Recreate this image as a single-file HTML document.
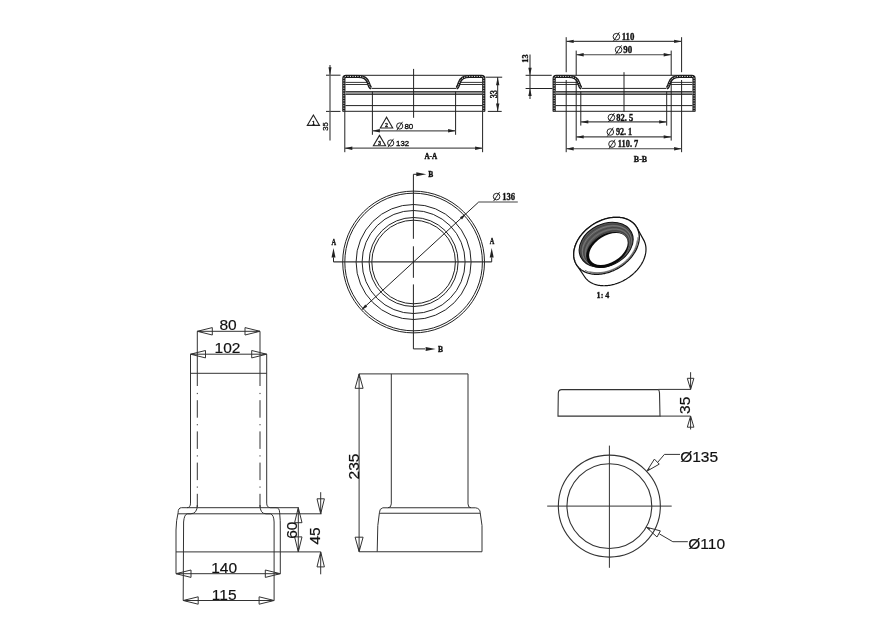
<!DOCTYPE html><html><head><meta charset="utf-8"><style>html,body{margin:0;padding:0;background:#fff;}svg{will-change:transform;}</style></head><body><svg width="891" height="628" viewBox="0 0 891 628" style="display:block">
<rect width="891" height="628" fill="#fff"/>
<path d="M 343.85 111.3 L 343.85 78.6 Q 343.85 76.45 346.00 76.45 L 358.30 76.45 C 364.30 76.45 367.20 79.2 368.40 83 C 369.20 85.8 369.90 87.6 371.20 88.1" fill="none" stroke="#1a1a1a" stroke-width="3.2" stroke-linejoin="round"/>
<path d="M 343.85 111.3 L 343.85 78.6 Q 343.85 76.45 346.00 76.45 L 358.30 76.45 C 364.30 76.45 367.20 79.2 368.40 83 C 369.20 85.8 369.90 87.6 371.20 88.1" fill="none" stroke="#fff" stroke-width="0.9" stroke-dasharray="1.1 1.4"/>
<path d="M 483.75 111.3 L 483.75 78.6 Q 483.75 76.45 481.60 76.45 L 469.30 76.45 C 463.30 76.45 460.40 79.2 459.20 83 C 458.40 85.8 457.70 87.6 456.40 88.1" fill="none" stroke="#1a1a1a" stroke-width="3.2" stroke-linejoin="round"/>
<path d="M 483.75 111.3 L 483.75 78.6 Q 483.75 76.45 481.60 76.45 L 469.30 76.45 C 463.30 76.45 460.40 79.2 459.20 83 C 458.40 85.8 457.70 87.6 456.40 88.1" fill="none" stroke="#fff" stroke-width="0.9" stroke-dasharray="1.1 1.4"/>
<line x1="371.50" y1="88.40" x2="456.10" y2="88.40" stroke="#222" stroke-width="1" />
<line x1="345.40" y1="82.40" x2="367.50" y2="82.40" stroke="#222" stroke-width="0.9" />
<line x1="345.40" y1="84.50" x2="368.20" y2="84.50" stroke="#222" stroke-width="0.9" />
<line x1="482.20" y1="82.40" x2="460.10" y2="82.40" stroke="#222" stroke-width="0.9" />
<line x1="482.20" y1="84.50" x2="459.40" y2="84.50" stroke="#222" stroke-width="0.9" />
<rect x="345.40" y="91.6" width="136.8" height="2.8" fill="#9a9a9a"/>
<line x1="345.40" y1="91.60" x2="482.20" y2="91.60" stroke="#333" stroke-width="1" />
<line x1="345.40" y1="94.40" x2="482.20" y2="94.40" stroke="#333" stroke-width="1" />
<line x1="345.40" y1="105.60" x2="482.20" y2="105.60" stroke="#222" stroke-width="1" />
<line x1="342.50" y1="111.30" x2="485.10" y2="111.30" stroke="#222" stroke-width="1" />
<line x1="413.60" y1="68.90" x2="413.60" y2="117.80" stroke="#222" stroke-width="1" />
<line x1="359.50" y1="75.30" x2="468.10" y2="75.30" stroke="#222" stroke-width="1" />
<line x1="372.40" y1="91.60" x2="372.40" y2="134.80" stroke="#222" stroke-width="1" />
<line x1="455.60" y1="91.60" x2="455.60" y2="134.80" stroke="#222" stroke-width="1" />
<line x1="344.80" y1="111.30" x2="344.80" y2="152.20" stroke="#222" stroke-width="1" />
<line x1="482.60" y1="111.30" x2="482.60" y2="152.20" stroke="#222" stroke-width="1" />
<line x1="372.40" y1="130.80" x2="455.60" y2="130.80" stroke="#555" stroke-width="1.3" />
<polygon points="372.40,130.80 379.90,129.10 379.90,132.50" fill="#222"/>
<polygon points="455.60,130.80 448.10,132.50 448.10,129.10" fill="#222"/>
<line x1="344.80" y1="148.20" x2="482.60" y2="148.20" stroke="#555" stroke-width="1.3" />
<polygon points="344.80,148.20 352.30,146.50 352.30,149.90" fill="#222"/>
<polygon points="482.60,148.20 475.10,149.90 475.10,146.50" fill="#222"/>
<line x1="326.00" y1="75.20" x2="340.50" y2="75.20" stroke="#222" stroke-width="1" />
<line x1="326.00" y1="111.40" x2="340.50" y2="111.40" stroke="#222" stroke-width="1" />
<line x1="330.00" y1="65.00" x2="330.00" y2="140.60" stroke="#555" stroke-width="1.3" />
<polygon points="330.00,75.20 328.50,67.20 331.50,67.20" fill="#222"/>
<line x1="485.50" y1="77.20" x2="502.20" y2="77.20" stroke="#222" stroke-width="1" />
<line x1="487.80" y1="111.40" x2="501.70" y2="111.40" stroke="#222" stroke-width="1" />
<line x1="497.70" y1="77.20" x2="497.70" y2="111.40" stroke="#222" stroke-width="1" />
<polygon points="497.70,77.20 499.40,85.20 496.00,85.20" fill="#222"/>
<polygon points="497.70,111.40 496.00,103.40 499.40,103.40" fill="#222"/>
<text x="496.60" y="94.20" font-family="Liberation Serif" font-size="9.5" font-weight="bold" text-anchor="middle" fill="#111" stroke="#111" stroke-width="0.35" transform="rotate(-90 496.60 94.20)" textLength="8.3" lengthAdjust="spacingAndGlyphs">33</text>
<text x="327.80" y="126.50" font-family="Liberation Sans" font-size="8" font-weight="normal" text-anchor="middle" fill="#111" stroke="#111" stroke-width="0.3" transform="rotate(-90 327.80 126.50)" textLength="8.5" lengthAdjust="spacingAndGlyphs">35</text>
<polygon points="313.40,115.00 307.30,125.40 319.50,125.40" fill="none" stroke="#222" stroke-width="1.1"/>
<text x="313.40" y="124.50" font-family="Liberation Serif" font-size="6" font-weight="bold" text-anchor="middle" fill="#111" stroke="#111" stroke-width="0.3">1</text>
<polygon points="386.50,117.20 380.30,128.00 392.70,128.00" fill="none" stroke="#222" stroke-width="1.1"/>
<text x="386.50" y="127.10" font-family="Liberation Serif" font-size="6" font-weight="bold" text-anchor="middle" fill="#111" stroke="#111" stroke-width="0.3">2</text>
<polygon points="379.50,135.40 373.40,145.80 385.60,145.80" fill="none" stroke="#222" stroke-width="1.1"/>
<text x="379.50" y="144.90" font-family="Liberation Serif" font-size="6" font-weight="bold" text-anchor="middle" fill="#111" stroke="#111" stroke-width="0.3">3</text>
<circle cx="399.70" cy="126.00" r="3.1" fill="none" stroke="#111" stroke-width="0.9"/>
<line x1="396.91" y1="130.19" x2="402.49" y2="121.81" stroke="#111" stroke-width="0.9"/>
<text x="404.40" y="128.90" font-family="Liberation Sans" font-size="8" font-weight="normal" text-anchor="start" fill="#111" stroke="#111" stroke-width="0.35" textLength="8.9" lengthAdjust="spacingAndGlyphs">80</text>
<circle cx="390.70" cy="143.00" r="3.1" fill="none" stroke="#111" stroke-width="0.9"/>
<line x1="387.91" y1="147.19" x2="393.49" y2="138.81" stroke="#111" stroke-width="0.9"/>
<text x="396.10" y="145.60" font-family="Liberation Sans" font-size="8" font-weight="normal" text-anchor="start" fill="#111" stroke="#111" stroke-width="0.35" textLength="13" lengthAdjust="spacingAndGlyphs">132</text>
<text x="430.80" y="158.90" font-family="Liberation Serif" font-size="8" font-weight="bold" text-anchor="middle" fill="#111" stroke="#111" stroke-width="0.4" textLength="12.8" lengthAdjust="spacingAndGlyphs">A-A</text>
<path d="M 554.15 111.3 L 554.15 78.6 Q 554.15 76.45 556.30 76.45 L 568.60 76.45 C 574.60 76.45 577.50 79.2 578.70 83 C 579.50 85.8 580.20 87.6 581.50 88.1" fill="none" stroke="#1a1a1a" stroke-width="3.2" stroke-linejoin="round"/>
<path d="M 554.15 111.3 L 554.15 78.6 Q 554.15 76.45 556.30 76.45 L 568.60 76.45 C 574.60 76.45 577.50 79.2 578.70 83 C 579.50 85.8 580.20 87.6 581.50 88.1" fill="none" stroke="#fff" stroke-width="0.9" stroke-dasharray="1.1 1.4"/>
<path d="M 694.05 111.3 L 694.05 78.6 Q 694.05 76.45 691.90 76.45 L 679.60 76.45 C 673.60 76.45 670.70 79.2 669.50 83 C 668.70 85.8 668.00 87.6 666.70 88.1" fill="none" stroke="#1a1a1a" stroke-width="3.2" stroke-linejoin="round"/>
<path d="M 694.05 111.3 L 694.05 78.6 Q 694.05 76.45 691.90 76.45 L 679.60 76.45 C 673.60 76.45 670.70 79.2 669.50 83 C 668.70 85.8 668.00 87.6 666.70 88.1" fill="none" stroke="#fff" stroke-width="0.9" stroke-dasharray="1.1 1.4"/>
<line x1="581.80" y1="88.40" x2="666.40" y2="88.40" stroke="#222" stroke-width="1" />
<line x1="555.70" y1="82.40" x2="577.80" y2="82.40" stroke="#222" stroke-width="0.9" />
<line x1="555.70" y1="84.50" x2="578.50" y2="84.50" stroke="#222" stroke-width="0.9" />
<line x1="692.50" y1="82.40" x2="670.40" y2="82.40" stroke="#222" stroke-width="0.9" />
<line x1="692.50" y1="84.50" x2="669.70" y2="84.50" stroke="#222" stroke-width="0.9" />
<rect x="555.70" y="91.6" width="136.8" height="2.8" fill="#9a9a9a"/>
<line x1="555.70" y1="91.60" x2="692.50" y2="91.60" stroke="#333" stroke-width="1" />
<line x1="555.70" y1="94.40" x2="692.50" y2="94.40" stroke="#333" stroke-width="1" />
<line x1="555.70" y1="105.60" x2="692.50" y2="105.60" stroke="#222" stroke-width="1" />
<line x1="552.80" y1="111.30" x2="695.40" y2="111.30" stroke="#222" stroke-width="1" />
<line x1="569.80" y1="75.30" x2="678.40" y2="75.30" stroke="#222" stroke-width="1" />
<line x1="624.00" y1="72.20" x2="624.00" y2="111.70" stroke="#222" stroke-width="1" />
<line x1="525.60" y1="75.30" x2="551.70" y2="75.30" stroke="#222" stroke-width="1" />
<line x1="525.60" y1="88.50" x2="552.50" y2="88.50" stroke="#222" stroke-width="1" />
<line x1="530.00" y1="54.40" x2="530.00" y2="98.90" stroke="#333" stroke-width="1.1" />
<polygon points="530.00,75.30 528.30,67.80 531.70,67.80" fill="#222"/>
<polygon points="530.00,88.50 531.70,96.00 528.30,96.00" fill="#222"/>
<text x="528.40" y="58.60" font-family="Liberation Serif" font-size="9" font-weight="bold" text-anchor="middle" fill="#111" stroke="#111" stroke-width="0.35" transform="rotate(-90 528.40 58.60)" textLength="8.4" lengthAdjust="spacingAndGlyphs">13</text>
<line x1="566.20" y1="37.20" x2="566.20" y2="72.20" stroke="#222" stroke-width="1" />
<line x1="566.20" y1="80.00" x2="566.20" y2="152.20" stroke="#222" stroke-width="1" />
<line x1="681.60" y1="37.20" x2="681.60" y2="72.20" stroke="#222" stroke-width="1" />
<line x1="681.60" y1="80.00" x2="681.60" y2="152.20" stroke="#222" stroke-width="1" />
<line x1="576.20" y1="50.60" x2="576.20" y2="75.30" stroke="#222" stroke-width="1" />
<line x1="576.20" y1="80.50" x2="576.20" y2="140.60" stroke="#222" stroke-width="1" />
<line x1="671.20" y1="50.60" x2="671.20" y2="75.30" stroke="#222" stroke-width="1" />
<line x1="671.20" y1="80.50" x2="671.20" y2="140.60" stroke="#222" stroke-width="1" />
<line x1="580.80" y1="91.60" x2="580.80" y2="125.60" stroke="#222" stroke-width="1" />
<line x1="666.70" y1="91.60" x2="666.70" y2="125.60" stroke="#222" stroke-width="1" />
<line x1="566.20" y1="41.40" x2="681.60" y2="41.40" stroke="#444" stroke-width="1.1" />
<polygon points="566.20,41.40 573.70,39.70 573.70,43.10" fill="#222"/>
<polygon points="681.60,41.40 674.10,43.10 674.10,39.70" fill="#222"/>
<line x1="576.20" y1="54.80" x2="671.20" y2="54.80" stroke="#444" stroke-width="1.1" />
<polygon points="576.20,54.80 583.70,53.10 583.70,56.50" fill="#222"/>
<polygon points="671.20,54.80 663.70,56.50 663.70,53.10" fill="#222"/>
<line x1="580.80" y1="121.90" x2="666.70" y2="121.90" stroke="#444" stroke-width="1.1" />
<polygon points="580.80,121.90 588.30,120.20 588.30,123.60" fill="#222"/>
<polygon points="666.70,121.90 659.20,123.60 659.20,120.20" fill="#222"/>
<line x1="576.20" y1="136.90" x2="671.20" y2="136.90" stroke="#444" stroke-width="1.1" />
<polygon points="576.20,136.90 583.70,135.20 583.70,138.60" fill="#222"/>
<polygon points="671.20,136.90 663.70,138.60 663.70,135.20" fill="#222"/>
<line x1="566.20" y1="148.70" x2="681.60" y2="148.70" stroke="#444" stroke-width="1.1" />
<polygon points="566.20,148.70 573.70,147.00 573.70,150.40" fill="#222"/>
<polygon points="681.60,148.70 674.10,150.40 674.10,147.00" fill="#222"/>
<circle cx="616.40" cy="36.70" r="3.3" fill="none" stroke="#111" stroke-width="0.9"/>
<line x1="613.43" y1="41.16" x2="619.37" y2="32.25" stroke="#111" stroke-width="0.9"/>
<text x="621.70" y="40.10" font-family="Liberation Serif" font-size="9.5" font-weight="bold" text-anchor="start" fill="#111" stroke="#111" stroke-width="0.35" textLength="12.7" lengthAdjust="spacingAndGlyphs">110</text>
<circle cx="618.60" cy="49.80" r="3.3" fill="none" stroke="#111" stroke-width="0.9"/>
<line x1="615.63" y1="54.25" x2="621.57" y2="45.34" stroke="#111" stroke-width="0.9"/>
<text x="623.30" y="52.90" font-family="Liberation Serif" font-size="9.5" font-weight="bold" text-anchor="start" fill="#111" stroke="#111" stroke-width="0.35" textLength="8.9" lengthAdjust="spacingAndGlyphs">90</text>
<circle cx="611.40" cy="117.50" r="3.3" fill="none" stroke="#111" stroke-width="0.9"/>
<line x1="608.43" y1="121.95" x2="614.37" y2="113.05" stroke="#111" stroke-width="0.9"/>
<text x="616.30" y="120.70" font-family="Liberation Serif" font-size="9.5" font-weight="bold" text-anchor="start" fill="#111" stroke="#111" stroke-width="0.35" textLength="17" lengthAdjust="spacingAndGlyphs">82. 5</text>
<circle cx="610.30" cy="132.00" r="3.3" fill="none" stroke="#111" stroke-width="0.9"/>
<line x1="607.33" y1="136.46" x2="613.27" y2="127.55" stroke="#111" stroke-width="0.9"/>
<text x="615.90" y="135.10" font-family="Liberation Serif" font-size="9.5" font-weight="bold" text-anchor="start" fill="#111" stroke="#111" stroke-width="0.35" textLength="16.3" lengthAdjust="spacingAndGlyphs">92. 1</text>
<circle cx="612.00" cy="144.10" r="3.3" fill="none" stroke="#111" stroke-width="0.9"/>
<line x1="609.03" y1="148.56" x2="614.97" y2="139.64" stroke="#111" stroke-width="0.9"/>
<text x="617.80" y="147.10" font-family="Liberation Serif" font-size="9.5" font-weight="bold" text-anchor="start" fill="#111" stroke="#111" stroke-width="0.35" textLength="20.5" lengthAdjust="spacingAndGlyphs">110. 7</text>
<text x="640.50" y="161.80" font-family="Liberation Serif" font-size="8.5" font-weight="bold" text-anchor="middle" fill="#111" stroke="#111" stroke-width="0.35" textLength="13.3" lengthAdjust="spacingAndGlyphs">B-B</text>
<circle cx="413.6" cy="262.0" r="41.8" fill="none" stroke="#222" stroke-width="1"/>
<circle cx="413.6" cy="262.0" r="44.5" fill="none" stroke="#222" stroke-width="1"/>
<circle cx="413.6" cy="262.0" r="51.5" fill="none" stroke="#222" stroke-width="1"/>
<circle cx="413.6" cy="262.0" r="57.5" fill="none" stroke="#222" stroke-width="1"/>
<circle cx="413.6" cy="262.0" r="68.8" fill="none" stroke="#222" stroke-width="1"/>
<circle cx="413.6" cy="262.0" r="70.9" fill="none" stroke="#222" stroke-width="1"/>
<line x1="333.50" y1="261.90" x2="491.70" y2="261.90" stroke="#333" stroke-width="1.1" />
<line x1="333.50" y1="261.90" x2="333.50" y2="257.40" stroke="#222" stroke-width="1" />
<polygon points="333.50,248.00 335.50,257.50 331.50,257.50" fill="#222"/>
<line x1="491.70" y1="261.90" x2="491.70" y2="257.40" stroke="#222" stroke-width="1" />
<polygon points="491.70,248.00 493.70,257.50 489.70,257.50" fill="#222"/>
<text x="333.80" y="245.20" font-family="Liberation Serif" font-size="8.5" font-weight="bold" text-anchor="middle" fill="#111" stroke="#111" stroke-width="0.35" textLength="4.6" lengthAdjust="spacingAndGlyphs">A</text>
<text x="492.00" y="243.90" font-family="Liberation Serif" font-size="8.5" font-weight="bold" text-anchor="middle" fill="#111" stroke="#111" stroke-width="0.35" textLength="4.6" lengthAdjust="spacingAndGlyphs">A</text>
<path d="M413.4 174.3 L413.4 238.8 M413.4 246.3 L413.4 277.8 M413.4 284.4 L413.4 348.9" fill="none" stroke="#222" stroke-width="1"/>
<line x1="413.40" y1="174.30" x2="418.00" y2="174.30" stroke="#222" stroke-width="1" />
<polygon points="426.30,174.30 416.30,176.30 416.30,172.30" fill="#222"/>
<line x1="413.40" y1="348.90" x2="425.00" y2="348.90" stroke="#222" stroke-width="1" />
<polygon points="435.60,348.90 425.60,350.90 425.60,346.90" fill="#222"/>
<text x="430.80" y="177.30" font-family="Liberation Serif" font-size="7.5" font-weight="bold" text-anchor="middle" fill="#111" stroke="#111" stroke-width="0.35">B</text>
<text x="440.50" y="351.80" font-family="Liberation Serif" font-size="7.5" font-weight="bold" text-anchor="middle" fill="#111" stroke="#111" stroke-width="0.35">B</text>
<line x1="362.20" y1="309.20" x2="478.70" y2="202.00" stroke="#222" stroke-width="1" />
<line x1="478.70" y1="202.00" x2="517.80" y2="202.00" stroke="#444" stroke-width="1.2" />
<polygon points="465.77,213.99 462.01,219.50 459.97,217.29" fill="#222"/>
<polygon points="361.43,310.01 365.19,304.50 367.23,306.71" fill="#222"/>
<circle cx="496.60" cy="196.60" r="3.3" fill="none" stroke="#111" stroke-width="0.9"/>
<line x1="493.63" y1="201.06" x2="499.57" y2="192.14" stroke="#111" stroke-width="0.9"/>
<text x="502.20" y="200.30" font-family="Liberation Serif" font-size="9.5" font-weight="bold" text-anchor="start" fill="#111" stroke="#111" stroke-width="0.35" textLength="12.8" lengthAdjust="spacingAndGlyphs">136</text>
<path d="M573.72 254.53 L573.73 253.58 L573.78 252.62 L573.87 251.65 L574.01 250.67 L574.18 249.68 L574.39 248.69 L574.64 247.70 L574.93 246.71 L575.25 245.71 L575.62 244.72 L576.02 243.72 L576.46 242.73 L576.94 241.75 L577.45 240.76 L578.00 239.79 L578.58 238.82 L579.20 237.85 L579.85 236.90 L580.53 235.96 L581.24 235.04 L581.99 234.12 L582.76 233.22 L583.57 232.33 L584.40 231.46 L585.25 230.61 L586.14 229.78 L587.05 228.97 L587.98 228.17 L588.94 227.40 L589.91 226.65 L590.91 225.93 L591.93 225.22 L592.96 224.55 L594.01 223.90 L595.08 223.27 L596.15 222.68 L597.25 222.11 L598.35 221.57 L599.46 221.06 L600.59 220.58 L601.71 220.13 L602.85 219.71 L603.99 219.32 L605.13 218.97 L606.27 218.65 L607.42 218.36 L608.56 218.10 L609.70 217.88 L610.84 217.70 L611.97 217.54 L613.10 217.43 L614.21 217.34 L615.32 217.29 L616.41 217.28 L617.50 217.30 L618.57 217.35 L619.63 217.44 L620.67 217.57 L621.69 217.73 L622.70 217.92 L623.68 218.15 L624.64 218.41 L625.59 218.70 L626.50 219.03 L627.40 219.39 L628.27 219.78 L629.11 220.20 L629.92 220.66 L630.71 221.14 L631.47 221.66 L632.19 222.20 L632.89 222.78 L633.55 223.38 L634.18 224.01 L634.78 224.66 L635.34 225.34 L635.87 226.05 L636.36 226.78 L636.81 227.53 L643.59 239.84 L644.00 240.59 L644.37 241.37 L644.70 242.17 L645.00 242.99 L645.26 243.82 L645.48 244.68 L645.66 245.54 L645.80 246.43 L645.90 247.33 L645.96 248.24 L645.99 249.16 L645.97 250.09 L645.92 251.03 L645.83 251.98 L645.69 252.94 L645.52 253.90 L645.31 254.87 L645.07 255.84 L644.78 256.81 L644.46 257.79 L644.09 258.76 L643.70 259.74 L643.26 260.71 L642.79 261.68 L642.28 262.64 L641.75 263.60 L641.17 264.55 L640.56 265.49 L639.92 266.42 L639.25 267.34 L638.55 268.25 L637.81 269.15 L637.05 270.03 L636.26 270.90 L635.44 271.75 L634.60 272.59 L633.73 273.41 L632.83 274.21 L631.91 274.99 L630.97 275.74 L630.01 276.48 L629.03 277.19 L628.03 277.88 L627.02 278.55 L625.99 279.19 L624.94 279.80 L623.88 280.39 L622.80 280.95 L621.72 281.48 L620.63 281.98 L619.52 282.45 L618.42 282.90 L617.30 283.31 L616.18 283.69 L615.06 284.04 L613.94 284.36 L612.81 284.64 L611.69 284.90 L610.57 285.12 L609.46 285.30 L608.35 285.46 L607.24 285.57 L606.15 285.66 L605.06 285.71 L603.98 285.73 L602.92 285.71 L601.87 285.66 L600.83 285.58 L599.81 285.46 L598.81 285.31 L597.82 285.12 L596.86 284.90 L595.91 284.65 L594.99 284.37 L594.09 284.05 L593.22 283.70 L592.36 283.32 L591.54 282.91 L590.74 282.47 L589.97 281.99 L589.23 281.49 L588.52 280.96 L587.84 280.40 L587.19 279.82 L586.58 279.20 L585.99 278.56 L585.44 277.90 L584.93 277.21 L584.45 276.50 L576.64 264.82 L576.19 264.07 L575.77 263.29 L575.39 262.50 L575.05 261.68 L574.75 260.84 L574.48 259.99 L574.25 259.11 L574.07 258.23 L573.92 257.32 L573.81 256.40 L573.75 255.47 Z" fill="#fff" stroke="#111" stroke-width="1.2" stroke-linejoin="round"/>
<path d="M636.36 226.78 L636.81 227.53 L637.23 228.31 L637.61 229.11 L637.95 229.92 L638.25 230.76 L638.52 231.61 L638.74 232.49 L638.93 233.37 L639.08 234.28 L639.19 235.20 L639.25 236.13 L639.28 237.07 L639.27 238.02 L639.22 238.98 L639.13 239.95 L638.99 240.93 L638.82 241.92 L638.61 242.90 L638.36 243.90 L638.07 244.89 L637.75 245.89 L637.38 246.88 L636.98 247.88 L636.54 248.87 L636.06 249.86 L635.55 250.84 L635.00 251.81 L634.42 252.78 L633.80 253.74 L633.15 254.70 L632.47 255.64 L631.76 256.56 L631.01 257.48 L630.24 258.38 L629.43 259.27 L628.60 260.14 L627.74 260.99 L626.86 261.82 L625.95 262.63 L625.02 263.43 L624.06 264.20 L623.09 264.95 L622.09 265.67 L621.07 266.38 L620.04 267.05 L618.99 267.70 L617.92 268.33 L616.84 268.93 L615.75 269.49 L614.65 270.03 L613.54 270.54 L612.41 271.02 L611.29 271.47 L610.15 271.89 L609.01 272.28 L607.87 272.63 L606.73 272.95 L605.58 273.24 L604.44 273.50 L603.30 273.72 L602.16 273.90 L601.03 274.06 L599.91 274.17 L598.79 274.26 L597.68 274.31 L596.58 274.32 L595.50 274.30 L594.43 274.25 L593.37 274.16 L592.33 274.03 L591.31 273.87 L590.30 273.68 L589.32 273.45 L588.36 273.19 L587.41 272.90 L586.50 272.57 L585.60 272.21 L584.73 271.82 L583.89 271.40 L583.08 270.94 L582.29 270.46 L581.53 269.94 L580.81 269.40 L580.11 268.82 L579.45 268.22 L578.82 267.59 L578.22 266.94 L577.66 266.26 L577.13 265.55 L576.64 264.82 L576.19 264.07 L575.77 263.29 L575.39 262.49 L575.05 261.68 L574.75 260.84 L574.48 259.99 L574.26 259.11 L574.07 258.23 L573.92 257.32 L573.81 256.40 L573.75 255.47 L573.72 254.53 L573.73 253.58 L573.78 252.62 L573.87 251.65 L574.01 250.67 L574.18 249.68 L574.39 248.70 L574.64 247.70 L574.93 246.71 L575.25 245.71 L575.62 244.72 L576.02 243.72 L576.46 242.73 L576.94 241.74 L577.45 240.76 L578.00 239.79 L578.58 238.82 L579.20 237.86 L579.85 236.90 L580.53 235.96 L581.24 235.04 L581.99 234.12 L582.76 233.22 L583.57 232.33 L584.40 231.46 L585.26 230.61 L586.14 229.78 L587.05 228.97 L587.98 228.17 L588.94 227.40 L589.91 226.65 L590.91 225.93 L591.93 225.22 L592.96 224.55 L594.01 223.90 L595.08 223.27 L596.16 222.67 L597.25 222.11 L598.35 221.57 L599.46 221.06 L600.59 220.58 L601.71 220.13 L602.85 219.71 L603.99 219.32 L605.13 218.97 L606.27 218.65 L607.42 218.36 L608.56 218.10 L609.70 217.88 L610.84 217.70 L611.97 217.54 L613.09 217.43 L614.21 217.34 L615.32 217.29 L616.42 217.28 L617.50 217.30 L618.57 217.35 L619.63 217.44 L620.67 217.57 L621.69 217.73 L622.70 217.92 L623.68 218.15 L624.64 218.41 L625.59 218.70 L626.50 219.03 L627.40 219.39 L628.27 219.78 L629.11 220.20 L629.92 220.66 L630.71 221.14 L631.47 221.66 L632.19 222.20 L632.89 222.78 L633.55 223.38 L634.18 224.01 L634.78 224.66 L635.34 225.34 L635.87 226.05 L636.36 226.78 Z" fill="#fff" stroke="#111" stroke-width="1.3"/>
<path d="M637.89 237.39 L637.90 238.40 L637.87 239.41 L637.79 240.45 L637.65 241.49 L637.47 242.53 L637.24 243.59 L636.96 244.65 L636.63 245.72 L636.26 246.78 L635.83 247.85 L635.36 248.91 L634.85 249.97 L634.29 251.02 L633.69 252.07 L633.04 253.11 L632.35 254.14 L631.63 255.16 L630.86 256.16 L630.05 257.15 L629.21 258.12 L628.33 259.07 L627.42 260.00 L626.47 260.92 L625.50 261.80 L624.49 262.67 L623.46 263.51 L622.39 264.32 L621.31 265.10 L620.20 265.85 L619.07 266.58 L617.92 267.27 L616.76 267.92 L615.58 268.55 L614.38 269.14 L613.17 269.69 L611.96 270.20 L610.73 270.68 L609.50 271.12 L608.27 271.52 L607.03 271.87 L605.79 272.19 L604.56 272.47 L603.33 272.71 L602.11 272.90 L600.89 273.05 L599.68 273.16 L598.49 273.23 L597.31 273.25 L596.15 273.23 L595.00 273.17 L593.87 273.06 L592.77 272.92 L591.68 272.73 L590.63 272.50 L589.59 272.22 L588.59 271.91 L587.62 271.56 L586.68 271.16 L585.77 270.73 L584.89 270.26" fill="none" stroke="#333" stroke-width="0.8"/>
<path d="M637.03 240.52 L636.93 241.40 L636.79 242.29 L636.61 243.18 L636.40 244.08 L636.16 244.98 L635.87 245.89 L635.55 246.80 L635.19 247.70 L634.80 248.61 L634.38 249.51 L633.92 250.42 L633.42 251.31 L632.90 252.20 L632.34 253.09 L631.75 253.97 L631.13 254.84 L630.48 255.70 L629.80 256.55 L629.09 257.38 L628.35 258.21 L627.59 259.02 L626.80 259.81 L625.99 260.59 L625.15 261.35 L624.29 262.10 L623.41 262.82 L622.51 263.53 L621.59 264.21 L620.66 264.88 L619.70 265.52 L618.73 266.13 L617.75 266.73 L616.75 267.30 L615.74 267.84 L614.72 268.36 L613.69 268.85 L612.66 269.31 L611.61 269.75 L610.56 270.15 L609.51 270.53 L608.45 270.88 L607.39 271.20 L606.34 271.49 L605.28 271.74 L604.23 271.97 L603.18 272.16 L602.13 272.33 L601.09 272.46 L600.06 272.56 L599.04 272.62 L598.03 272.66 L597.03 272.66 L596.04 272.63 L595.07 272.57 L594.11 272.48 L593.17 272.35 L592.25 272.20 L591.35 272.01 L590.46 271.79 L589.60 271.54" fill="none" stroke="#555" stroke-width="0.7"/>
<ellipse cx="606.15" cy="244.75" rx="28.25" ry="20.8" transform="rotate(-26.3 606.15 244.75)" fill="#5a5a5a" stroke="#111" stroke-width="1.1"/>
<ellipse cx="606.50" cy="245.45" rx="27.13" ry="19.68" transform="rotate(-27.14 606.50 245.45)" fill="none" stroke="#333" stroke-width="0.6"/>
<ellipse cx="606.85" cy="246.15" rx="26.01" ry="18.56" transform="rotate(-27.98 606.85 246.15)" fill="none" stroke="#888" stroke-width="0.6"/>
<ellipse cx="607.20" cy="246.85" rx="24.89" ry="17.44" transform="rotate(-28.82 607.20 246.85)" fill="none" stroke="#3a3a3a" stroke-width="0.6"/>
<ellipse cx="607.55" cy="247.55" rx="23.77" ry="16.32" transform="rotate(-29.66 607.55 247.55)" fill="none" stroke="#808080" stroke-width="0.6"/>
<ellipse cx="607.90" cy="248.25" rx="22.65" ry="15.20" transform="rotate(-30.50 607.90 248.25)" fill="none" stroke="#333" stroke-width="0.6"/>
<ellipse cx="608.25" cy="248.95" rx="21.53" ry="14.08" transform="rotate(-31.34 608.25 248.95)" fill="none" stroke="#777" stroke-width="0.6"/>
<ellipse cx="607.4" cy="250.0" rx="23.0" ry="15.6" transform="rotate(-32 607.4 250.0)" fill="#0a0a0a"/>
<ellipse cx="608.4" cy="249.05" rx="21.2" ry="13.35" transform="rotate(-32 608.4 249.05)" fill="#fff"/>
<text x="603.00" y="298.20" font-family="Liberation Serif" font-size="8.5" font-weight="bold" text-anchor="middle" fill="#111" stroke="#111" stroke-width="0.35" textLength="12.8" lengthAdjust="spacingAndGlyphs">1: 4</text>
<line x1="197.30" y1="331.30" x2="260.00" y2="331.30" stroke="#333" stroke-width="1" />
<polygon points="197.30,331.30 212.30,327.60 212.30,335.00" fill="none" stroke="#333" stroke-width="1" stroke-linejoin="miter"/>
<polygon points="197.30,331.30 201.30,330.40 201.30,332.20" fill="#333"/>
<polygon points="260.00,331.30 245.00,335.00 245.00,327.60" fill="none" stroke="#333" stroke-width="1" stroke-linejoin="miter"/>
<polygon points="260.00,331.30 256.00,332.20 256.00,330.40" fill="#333"/>
<text x="228.00" y="329.50" font-family="Liberation Sans" font-size="15.5" font-weight="normal" text-anchor="middle" fill="#111" stroke="#111" stroke-width="0.2">80</text>
<line x1="190.50" y1="354.20" x2="266.70" y2="354.20" stroke="#333" stroke-width="1" />
<polygon points="190.50,354.20 205.50,350.50 205.50,357.90" fill="none" stroke="#333" stroke-width="1" stroke-linejoin="miter"/>
<polygon points="190.50,354.20 194.50,353.30 194.50,355.10" fill="#333"/>
<polygon points="266.70,354.20 251.70,357.90 251.70,350.50" fill="none" stroke="#333" stroke-width="1" stroke-linejoin="miter"/>
<polygon points="266.70,354.20 262.70,355.10 262.70,353.30" fill="#333"/>
<text x="227.50" y="352.80" font-family="Liberation Sans" font-size="15.5" font-weight="normal" text-anchor="middle" fill="#111" stroke="#111" stroke-width="0.2">102</text>
<line x1="190.50" y1="354.20" x2="190.50" y2="503.10" stroke="#333" stroke-width="1" />
<line x1="266.70" y1="354.20" x2="266.70" y2="503.10" stroke="#333" stroke-width="1" />
<line x1="190.50" y1="373.30" x2="266.70" y2="373.30" stroke="#333" stroke-width="1" />
<path d="M197.3 331.3 L197.3 386 M197.3 392.9 L197.3 394.1 M197.3 400.2 L197.3 417.7 M197.3 424.09999999999997 L197.3 425.3 M197.3 431.4 L197.3 448.9 M197.3 455.29999999999995 L197.3 456.5 M197.3 462.59999999999997 L197.3 480.09999999999997 M197.3 486.49999999999994 L197.3 487.7 M197.3 493.79999999999995 L197.3 507 " stroke="#333" stroke-width="1" fill="none"/>
<path d="M260.0 331.3 L260.0 386 M260.0 392.9 L260.0 394.1 M260.0 400.2 L260.0 417.7 M260.0 424.09999999999997 L260.0 425.3 M260.0 431.4 L260.0 448.9 M260.0 455.29999999999995 L260.0 456.5 M260.0 462.59999999999997 L260.0 480.09999999999997 M260.0 486.49999999999994 L260.0 487.7 M260.0 493.79999999999995 L260.0 507 " stroke="#333" stroke-width="1" fill="none"/>
<path d="M190.5 503.1 Q190.5 507.7 186.9 507.7 L181.5 507.7 Q178.1 507.7 178.1 512.8 Q176.2 520 176.0 530 L176.0 573.7" fill="none" stroke="#333" stroke-width="1"/>
<path d="M266.7 503.1 Q266.7 507.7 270.6 507.7 L276.1 507.7 Q279.4 507.7 279.6 512.2 Q280.5 520 280.3 530 L280.3 573.7" fill="none" stroke="#333" stroke-width="1"/>
<line x1="186.90" y1="507.70" x2="298.60" y2="507.70" stroke="#333" stroke-width="1" />
<line x1="178.10" y1="513.80" x2="321.50" y2="513.80" stroke="#333" stroke-width="1" />
<path d="M197.3 505 Q197.3 513.8 190.5 513.8 L187.2 513.8 Q184.2 514.5 183.6 522 L183.2 600.5" fill="none" stroke="#333" stroke-width="1"/>
<path d="M260.0 505 Q260.0 513.8 266.0 513.8 L270.6 513.8 Q273.9 515 274.1 522 L274.1 600.5" fill="none" stroke="#333" stroke-width="1"/>
<line x1="176.00" y1="551.90" x2="320.70" y2="551.90" stroke="#333" stroke-width="1" />
<line x1="176.00" y1="573.70" x2="280.30" y2="573.70" stroke="#333" stroke-width="1" />
<polygon points="176.00,573.70 191.00,570.00 191.00,577.40" fill="none" stroke="#333" stroke-width="1" stroke-linejoin="miter"/>
<polygon points="176.00,573.70 180.00,572.80 180.00,574.60" fill="#333"/>
<polygon points="280.30,573.70 265.30,577.40 265.30,570.00" fill="none" stroke="#333" stroke-width="1" stroke-linejoin="miter"/>
<polygon points="280.30,573.70 276.30,574.60 276.30,572.80" fill="#333"/>
<text x="224.20" y="573.20" font-family="Liberation Sans" font-size="15.5" font-weight="normal" text-anchor="middle" fill="#111" stroke="#111" stroke-width="0.2">140</text>
<line x1="183.20" y1="600.50" x2="274.10" y2="600.50" stroke="#333" stroke-width="1" />
<polygon points="183.20,600.50 198.20,596.80 198.20,604.20" fill="none" stroke="#333" stroke-width="1" stroke-linejoin="miter"/>
<polygon points="183.20,600.50 187.20,599.60 187.20,601.40" fill="#333"/>
<polygon points="274.10,600.50 259.10,604.20 259.10,596.80" fill="none" stroke="#333" stroke-width="1" stroke-linejoin="miter"/>
<polygon points="274.10,600.50 270.10,601.40 270.10,599.60" fill="#333"/>
<text x="224.20" y="599.50" font-family="Liberation Sans" font-size="15.5" font-weight="normal" text-anchor="middle" fill="#111" stroke="#111" stroke-width="0.2">115</text>
<line x1="298.30" y1="507.70" x2="298.30" y2="551.90" stroke="#333" stroke-width="1" />
<polygon points="298.30,507.70 302.00,522.70 294.60,522.70" fill="none" stroke="#333" stroke-width="1" stroke-linejoin="miter"/>
<polygon points="298.30,507.70 299.20,511.70 297.40,511.70" fill="#333"/>
<polygon points="298.30,551.90 294.60,536.90 302.00,536.90" fill="none" stroke="#333" stroke-width="1" stroke-linejoin="miter"/>
<polygon points="298.30,551.90 297.40,547.90 299.20,547.90" fill="#333"/>
<text x="296.60" y="530.20" font-family="Liberation Sans" font-size="15.5" font-weight="normal" text-anchor="middle" fill="#111" stroke="#111" stroke-width="0.2" transform="rotate(-90 296.60 530.20)">60</text>
<line x1="320.70" y1="492.20" x2="320.70" y2="513.80" stroke="#333" stroke-width="1" />
<line x1="320.70" y1="551.90" x2="320.70" y2="574.30" stroke="#333" stroke-width="1" />
<polygon points="320.70,513.80 317.00,498.80 324.40,498.80" fill="none" stroke="#333" stroke-width="1" stroke-linejoin="miter"/>
<polygon points="320.70,513.80 319.80,509.80 321.60,509.80" fill="#333"/>
<polygon points="320.70,551.90 324.40,566.90 317.00,566.90" fill="none" stroke="#333" stroke-width="1" stroke-linejoin="miter"/>
<polygon points="320.70,551.90 321.60,555.90 319.80,555.90" fill="#333"/>
<text x="320.30" y="535.90" font-family="Liberation Sans" font-size="15.5" font-weight="normal" text-anchor="middle" fill="#111" stroke="#111" stroke-width="0.2" transform="rotate(-90 320.30 535.90)">45</text>
<line x1="359.10" y1="373.90" x2="468.00" y2="373.90" stroke="#333" stroke-width="1" />
<line x1="359.10" y1="373.90" x2="359.10" y2="551.70" stroke="#333" stroke-width="1" />
<polygon points="359.10,373.90 363.10,388.30 355.10,388.30" fill="none" stroke="#333" stroke-width="1" stroke-linejoin="miter"/>
<polygon points="359.10,373.90 360.00,377.90 358.20,377.90" fill="#333"/>
<polygon points="359.10,551.70 355.10,537.20 363.10,537.20" fill="none" stroke="#333" stroke-width="1" stroke-linejoin="miter"/>
<polygon points="359.10,551.70 358.20,547.70 360.00,547.70" fill="#333"/>
<text x="358.60" y="466.50" font-family="Liberation Sans" font-size="15.5" font-weight="normal" text-anchor="middle" fill="#111" stroke="#111" stroke-width="0.2" transform="rotate(-90 358.60 466.50)">235</text>
<line x1="391.30" y1="373.90" x2="391.30" y2="503.90" stroke="#333" stroke-width="1" />
<line x1="468.00" y1="373.90" x2="468.00" y2="503.90" stroke="#333" stroke-width="1" />
<path d="M391.3 503.9 Q391.3 507.8 387.8 507.8 L382.8 507.8 Q379.4 508.5 379.4 512.8 L377.8 525.6 L377.2 551.7" fill="none" stroke="#333" stroke-width="1"/>
<path d="M468.0 503.9 Q468.0 507.8 471.1 507.8 L475.6 507.8 Q480.2 508.5 480.2 512.8 L482.0 525.6 L482.0 551.7" fill="none" stroke="#333" stroke-width="1"/>
<line x1="387.80" y1="507.80" x2="471.10" y2="507.80" stroke="#333" stroke-width="1.1" />
<line x1="379.40" y1="513.30" x2="480.20" y2="513.30" stroke="#333" stroke-width="1.1" />
<line x1="359.10" y1="551.70" x2="482.00" y2="551.70" stroke="#333" stroke-width="1.1" />
<path d="M561.7 389.6 L658.3 389.6 Q659.3 390.2 659.5 393 L660.0 416.1 L558.0 416.1 L558.3 393 Q558.5 389.6 561.7 389.6" fill="none" stroke="#333" stroke-width="1.1"/>
<line x1="658.30" y1="389.40" x2="690.60" y2="389.40" stroke="#333" stroke-width="1" />
<line x1="660.00" y1="416.10" x2="690.60" y2="416.10" stroke="#333" stroke-width="1" />
<line x1="690.60" y1="372.20" x2="690.60" y2="389.40" stroke="#333" stroke-width="1" />
<line x1="690.60" y1="416.10" x2="690.60" y2="429.50" stroke="#333" stroke-width="1" />
<polygon points="690.60,389.40 687.30,378.30 693.90,378.30" fill="none" stroke="#333" stroke-width="1" stroke-linejoin="miter"/>
<polygon points="690.60,389.40 689.70,385.40 691.50,385.40" fill="#333"/>
<polygon points="690.60,416.10 693.90,427.20 687.30,427.20" fill="none" stroke="#333" stroke-width="1" stroke-linejoin="miter"/>
<polygon points="690.60,416.10 691.50,420.10 689.70,420.10" fill="#333"/>
<text x="690.40" y="405.30" font-family="Liberation Sans" font-size="15.5" font-weight="normal" text-anchor="middle" fill="#111" stroke="#111" stroke-width="0.2" transform="rotate(-90 690.40 405.30)">35</text>
<line x1="609.40" y1="445.60" x2="609.40" y2="567.80" stroke="#333" stroke-width="1" />
<line x1="547.20" y1="506.10" x2="671.70" y2="506.10" stroke="#333" stroke-width="1" />
<circle cx="609.35" cy="506.1" r="51" fill="none" stroke="#333" stroke-width="1.1"/>
<circle cx="609.35" cy="506.1" r="42.4" fill="none" stroke="#333" stroke-width="1.1"/>
<path d="M664.4 454.4 L680 454.4" stroke="#333" stroke-width="1" fill="none"/>
<line x1="657.80" y1="462.20" x2="664.40" y2="454.40" stroke="#333" stroke-width="1" />
<polygon points="646.70,471.30 654.41,459.10 659.24,464.16" fill="none" stroke="#333" stroke-width="1" stroke-linejoin="miter"/>
<polygon points="646.70,471.30 648.97,467.89 650.21,469.19" fill="#333"/>
<text x="680.20" y="461.70" font-family="Liberation Sans" font-size="15.5" font-weight="normal" text-anchor="start" fill="#111" stroke="#111" stroke-width="0.2">Ø135</text>
<line x1="659.40" y1="533.90" x2="672.80" y2="541.70" stroke="#333" stroke-width="1" />
<line x1="672.80" y1="541.70" x2="687.80" y2="541.70" stroke="#333" stroke-width="1" />
<polygon points="646.40,527.20 660.36,530.87 656.99,537.01" fill="none" stroke="#333" stroke-width="1" stroke-linejoin="miter"/>
<polygon points="646.40,527.20 650.34,528.34 649.47,529.91" fill="#333"/>
<text x="688.30" y="548.90" font-family="Liberation Sans" font-size="15.5" font-weight="normal" text-anchor="start" fill="#111" stroke="#111" stroke-width="0.2">Ø110</text>
</svg></body></html>
